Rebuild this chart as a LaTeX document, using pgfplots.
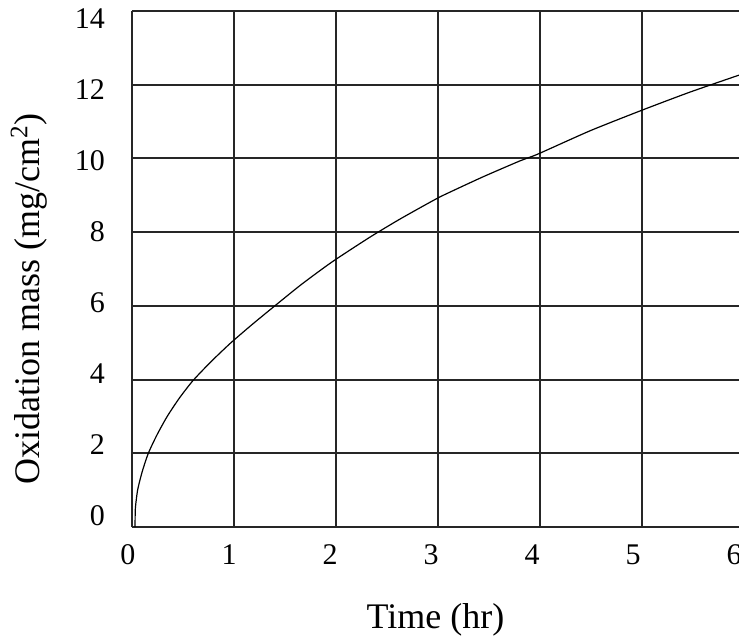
\documentclass[border=0pt]{standalone}
\usepackage{fontspec}
\setmainfont{Liberation Serif}
\usepackage{pgfplots}
\pgfplotsset{compat=1.18}

\begin{document}
\begin{tikzpicture}
\begin{axis}[
  scale only axis,
  width=303.5pt, height=258pt,
  xmin=0, xmax=5.95,
  ymin=0, ymax=14,
  axis x line*=bottom, axis y line*=left,
  axis line style={-, black!85, line width=1pt},
  xtick={0,1,2,3,4,5},
  ytick={0,2,4,6,8,10,12,14},
  major tick length=0pt,
  grid=major,
  grid style={black!85, line width=1pt},
  /pgf/number format/assume math mode=true,
  tick label style={font=\fontsize{15}{18}\selectfont, text=black},
  xticklabel style={anchor=center, yshift=-14pt, xshift=-2pt-0.5pt*\ticknum},
  yticklabel style={anchor=east, xshift=-10pt, yshift=5.5pt-1.36pt*\ticknum},
  label style={font=\fontsize{18}{21}\selectfont},
  xlabel={Time (hr)},
  ylabel={Oxidation mass (mg/cm\textsuperscript{2})},
  xlabel style={at={([yshift=-50.5pt]rel axis cs:0.5,0)}, anchor=base},
  ylabel style={at={([xshift=-46pt,yshift=-15pt]rel axis cs:0,0.5)}, anchor=base},
  clip=false,
]
\addplot[black, line width=0.6pt, smooth, tension=0.4] coordinates {
  (0.03,0.00) (0.033,0.50) (0.055,1.00) (0.10,1.50) (0.16,2.00)
  (0.245,2.50) (0.345,3.00) (0.465,3.50) (0.60,3.98) (0.78,4.50)
  (0.97,5.00) (1.18,5.50) (1.40,6.00) (1.66,6.58) (1.96,7.19)
  (2.33,7.86) (2.63,8.36) (2.98,8.90) (3.12,9.09) (3.44,9.50)
  (3.80,9.93) (3.98,10.12) (4.49,10.75) (5.00,11.31) (5.47,11.80)
  (5.95,12.26)
};
% last tick label sits on the cut right edge
\node[font=\fontsize{15}{18}\selectfont, anchor=center, xshift=-2.5pt, yshift=-14pt]
  at (rel axis cs:1,0) {6};
\coordinate (sw) at (rel axis cs:0,0);
\coordinate (ne) at (rel axis cs:1,1);
\end{axis}
\pgfresetboundingbox
\path[use as bounding box] ([xshift=-66pt,yshift=-56pt]sw) rectangle ([yshift=5.5pt]ne);
\end{tikzpicture}
\end{document}
